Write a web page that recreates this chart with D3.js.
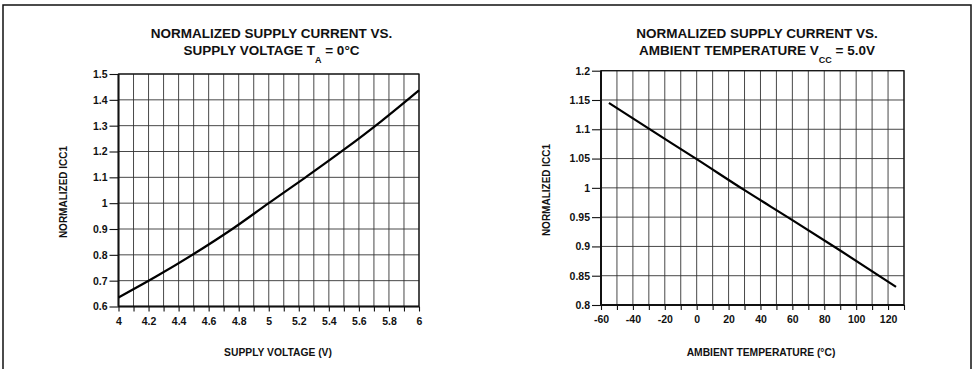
<!DOCTYPE html>
<html><head><meta charset="utf-8">
<script src="https://cdn.jsdelivr.net/npm/d3@7/dist/d3.min.js"></script>
<style>
body{margin:0;background:#fff}
svg{display:block}
text{font-family:"Liberation Sans",Arial,Helvetica,sans-serif;font-weight:bold;fill:#111}
</style>
</head><body>
<svg width="975" height="369"></svg>
<script>
// ---- data ----
const voltage = [4.0, 4.25, 4.5, 4.75, 5.0, 5.25, 5.5, 5.75, 6.0];
const iccVsVoltage = [0.635, 0.716, 0.803, 0.897, 1.0, 1.102, 1.207, 1.318, 1.437];
const temperature = [-55, -30, 0, 30, 60, 90, 125];
const iccVsTemp = [1.145, 1.101, 1.049, 0.996, 0.945, 0.893, 0.831];

const voltGrid = [4.0,4.1,4.2,4.3,4.4,4.5,4.6,4.7,4.8,4.9,5.0,5.1,5.2,5.3,5.4,5.5,5.6,5.7,5.8,5.9,6.0];
const voltTickLabels = ["4","4.2","4.4","4.6","4.8","5","5.2","5.4","5.6","5.8","6"];
const iccLeftTicks = [0.6,0.7,0.8,0.9,1.0,1.1,1.2,1.3,1.4,1.5];
const iccLeftLabels = ["0.6","0.7","0.8","0.9","1","1.1","1.2","1.3","1.4","1.5"];
const tempGrid = [-60,-50,-40,-30,-20,-10,0,10,20,30,40,50,60,70,80,90,100,110,120,130];
const tempTickLabels = ["-60","-40","-20","0","20","40","60","80","100","120"];
const iccRightTicks = [0.8,0.85,0.9,0.95,1.0,1.05,1.1,1.15,1.2];
const iccRightLabels = ["0.8","0.85","0.9","0.95","1","1.05","1.1","1.15","1.2"];

const svg = d3.select("svg");

// outer frame (open at bottom, cut off)
svg.append("path")
  .attr("d","M3,380 L3,5 L971,5 L971,380")
  .attr("fill","none").attr("stroke","#111").attr("stroke-width",1.5);

function panel(o){
  const g = svg.append("g");
  const x = d3.scaleLinear().domain(o.xDomain).range(o.xRange);
  const y = d3.scaleLinear().domain(o.yDomain).range(o.yRange);
  const [x0,x1] = o.xRange, [y0,y1] = o.yRange; // y0 bottom, y1 top

  // grid
  g.append("g").selectAll("line").data(o.xGrid).join("line")
    .attr("x1",d=>x(d)).attr("x2",d=>x(d)).attr("y1",y1).attr("y2",y0)
    .attr("stroke","#333").attr("stroke-width",0.9);
  g.append("g").selectAll("line").data(o.yTicks).join("line")
    .attr("x1",x0).attr("x2",x1).attr("y1",d=>y(d)).attr("y2",d=>y(d))
    .attr("stroke","#333").attr("stroke-width",0.9);

  // axes
  const lblX = new Map(o.xLabelVals.map((v,i)=>[v.toFixed(3), o.xLabels[i]]));
  const ax = g.append("g").attr("transform",`translate(0,${y0})`)
    .call(d3.axisBottom(x).tickValues(o.xGrid).tickSize(5).tickPadding(6)
      .tickFormat(d=>lblX.get(d.toFixed(3)) || ""));
  const lblY = new Map(o.yTicks.map((v,i)=>[v.toFixed(3), o.yLabels[i]]));
  const ay = g.append("g").attr("transform",`translate(${x0},0)`)
    .call(d3.axisLeft(y).tickValues(o.yTicks).tickSize(9).tickPadding(2)
      .tickFormat(d=>lblY.get(d.toFixed(3))));
  [ax,ay].forEach(a=>{
    a.select(".domain").remove();
    a.selectAll("line").attr("stroke","#111").attr("stroke-width",1.1);
    a.selectAll("text").attr("font-size","10.5px").attr("fill","#111")
      .style("font-family",'"Liberation Sans",Arial,sans-serif').style("font-weight","bold");
  });

  // frame
  g.append("rect").attr("x",x0).attr("y",y1).attr("width",x1-x0).attr("height",y0-y1)
    .attr("fill","none").attr("stroke","#111").attr("stroke-width",1.2);
  g.append("line").attr("x1",x0).attr("x2",x1).attr("y1",y0).attr("y2",y0)
    .attr("stroke","#111").attr("stroke-width",2);
  g.append("line").attr("x1",x0).attr("x2",x0).attr("y1",y1).attr("y2",y0)
    .attr("stroke","#111").attr("stroke-width",2);

  // curve
  const line = d3.line().x(d=>x(d[0])).y(d=>y(d[1])).curve(d3.curveMonotoneX);
  g.append("path").datum(o.xs.map((v,i)=>[v,o.ys[i]]))
    .attr("d",line).attr("fill","none").attr("stroke","#000").attr("stroke-width",2.2);

  // titles
  const t = g.append("text").attr("text-anchor","middle").attr("font-size","13.5px");
  t.append("tspan").attr("x",o.titleX).attr("y",37.5).text("NORMALIZED SUPPLY CURRENT VS.");
  const t2 = g.append("text").attr("text-anchor","middle").attr("font-size","13.5px")
    .attr("x",o.titleX).attr("y",54.5);
  t2.append("tspan").text(o.title2a);
  t2.append("tspan").attr("font-size","9px").attr("dy",8).text(o.title2sub);
  t2.append("tspan").attr("dy",-8).text(o.title2b);

  g.append("text").attr("text-anchor","middle").attr("font-size","10.3px")
    .attr("x",o.xTitleX).attr("y",356).text(o.xTitle);
  g.append("text").attr("text-anchor","middle").attr("font-size","10px")
    .attr("transform",`translate(${o.yTitleX},${o.yTitleY}) rotate(-90)`).text("NORMALIZED ICC1");
}

panel({
  xDomain:[4,6], xRange:[118.5,419], yDomain:[0.6,1.5], yRange:[306.5,74],
  xGrid:voltGrid, xLabelVals:voltGrid.filter((d,i)=>i%2===0), xLabels:voltTickLabels,
  yTicks:iccLeftTicks, yLabels:iccLeftLabels,
  xs:voltage, ys:iccVsVoltage,
  titleX:271.5, title2a:"SUPPLY VOLTAGE T", title2sub:"A", title2b:" = 0°C",
  xTitle:"SUPPLY VOLTAGE (V)", xTitleX:278, yTitleX:67, yTitleY:192
});
panel({
  xDomain:[-60,130], xRange:[601,904], yDomain:[0.8,1.2], yRange:[305,70.7],
  xGrid:tempGrid, xLabelVals:tempGrid.filter((d,i)=>i%2===0 && d<=120), xLabels:tempTickLabels,
  yTicks:iccRightTicks, yLabels:iccRightLabels,
  xs:temperature, ys:iccVsTemp,
  titleX:757, title2a:"AMBIENT TEMPERATURE V", title2sub:"CC", title2b:" = 5.0V",
  xTitle:"AMBIENT TEMPERATURE (°C)", xTitleX:761, yTitleX:550, yTitleY:190
});
</script>
</body></html>
